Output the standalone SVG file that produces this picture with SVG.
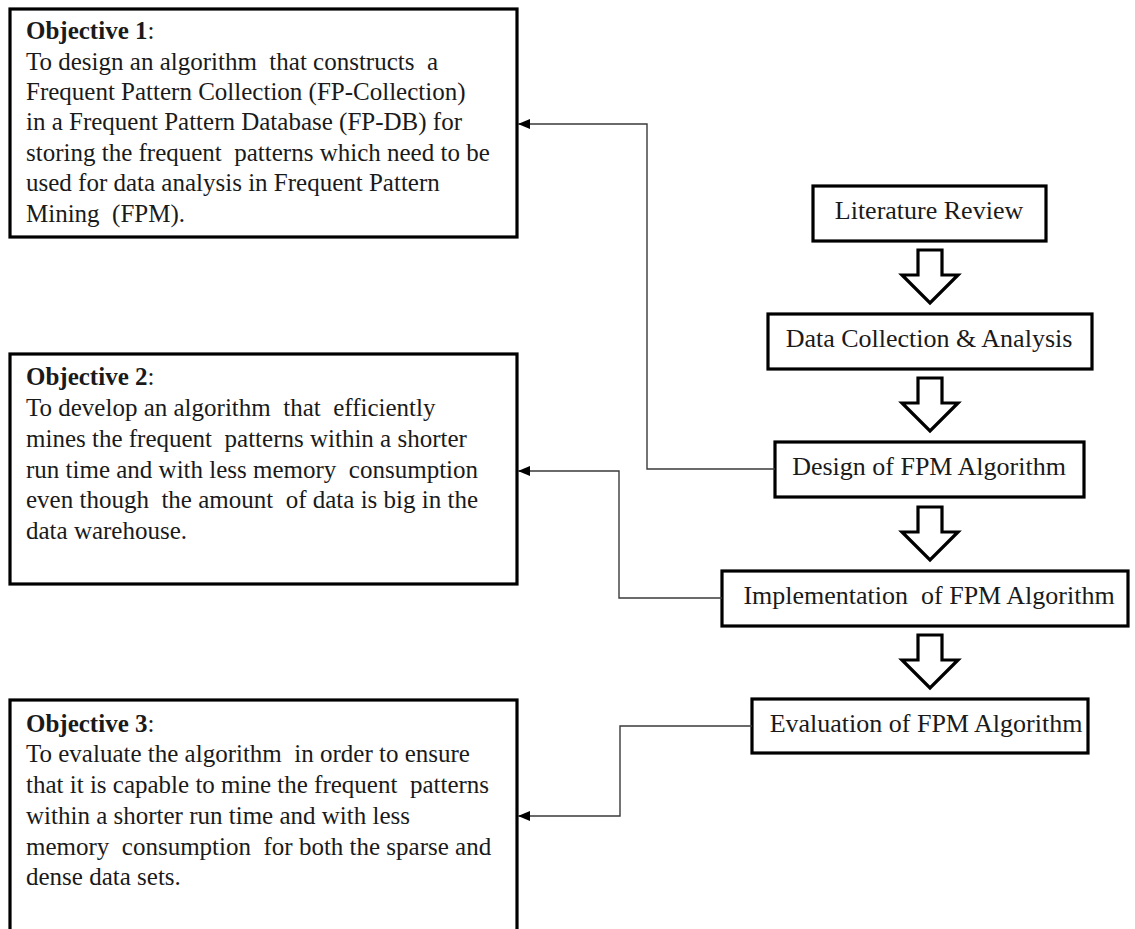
<svg xmlns="http://www.w3.org/2000/svg" width="1135" height="929" viewBox="0 0 1135 929">
  <style>
    .box { fill: #ffffff; stroke: #000000; stroke-width: 3.2; }
    .txt { font-family: "Liberation Serif", "DejaVu Serif", serif; font-size: 25px; fill: #1a1a1a; white-space: pre; }
    .bold { font-weight: bold; }
    .step { font-family: "Liberation Serif", "DejaVu Serif", serif; font-size: 26px; fill: #1a1a1a; text-anchor: middle; white-space: pre; }
    .link { fill: none; stroke: #3a3a3a; stroke-width: 1.4; }
    .flow { fill: #ffffff; stroke: #000000; stroke-width: 3.2; stroke-linejoin: miter; }
  </style>
  <defs>
    <marker id="head" viewBox="0 0 12 10" refX="12" refY="5" markerWidth="12" markerHeight="10" markerUnits="userSpaceOnUse" orient="auto">
      <path d="M0,0 L12,5 L0,10 Z" fill="#000000"/>
    </marker>
    <path id="bigArrow" d="M-12,0 L12,0 L12,25 L28,25 L0,53 L-28,25 L-12,25 Z"/>
  </defs>
  <rect width="1135" height="929" fill="#ffffff"/>

  <!-- objective boxes -->
  <g id="objective1">
    <rect class="box" x="10" y="9" width="507" height="228"/>
    <text class="txt" x="26" y="39"><tspan class="bold">Objective 1</tspan>:</text>
    <text class="txt" x="26" y="70">To design an algorithm  that constructs  a</text>
    <text class="txt" x="26" y="100">Frequent Pattern Collection (FP-Collection)</text>
    <text class="txt" x="26" y="130">in a Frequent Pattern Database (FP-DB) for</text>
    <text class="txt" x="26" y="161">storing the frequent  patterns which need to be</text>
    <text class="txt" x="26" y="191">used for data analysis in Frequent Pattern</text>
    <text class="txt" x="26" y="222">Mining  (FPM).</text>
  </g>

  <g id="objective2">
    <rect class="box" x="10" y="354" width="507" height="230"/>
    <text class="txt" x="26" y="385"><tspan class="bold">Objective 2</tspan>:</text>
    <text class="txt" x="26" y="416">To develop an algorithm  that  efficiently</text>
    <text class="txt" x="26" y="447">mines the frequent  patterns within a shorter</text>
    <text class="txt" x="26" y="478">run time and with less memory  consumption</text>
    <text class="txt" x="26" y="508">even though  the amount  of data is big in the</text>
    <text class="txt" x="26" y="539">data warehouse.</text>
  </g>

  <g id="objective3">
    <rect class="box" x="10" y="700" width="507" height="240"/>
    <text class="txt" x="26" y="732"><tspan class="bold">Objective 3</tspan>:</text>
    <text class="txt" x="26" y="762">To evaluate the algorithm  in order to ensure</text>
    <text class="txt" x="26" y="793">that it is capable to mine the frequent  patterns</text>
    <text class="txt" x="26" y="824">within a shorter run time and with less</text>
    <text class="txt" x="26" y="855">memory  consumption  for both the sparse and</text>
    <text class="txt" x="26" y="885">dense data sets.</text>
  </g>

  <!-- process steps -->
  <g id="literature-review">
    <rect class="box" x="813" y="186" width="233" height="55"/>
    <text class="step" x="929" y="219">Literature Review</text>
  </g>
  <g id="data-collection">
    <rect class="box" x="768" y="314" width="324" height="55"/>
    <text class="step" x="929" y="347">Data Collection &amp; Analysis</text>
  </g>
  <g id="design">
    <rect class="box" x="775" y="442" width="309" height="55"/>
    <text class="step" x="929" y="475">Design of FPM Algorithm</text>
  </g>
  <g id="implementation">
    <rect class="box" x="722" y="571" width="406" height="55"/>
    <text class="step" x="929" y="604">Implementation  of FPM Algorithm</text>
  </g>
  <g id="evaluation">
    <rect class="box" x="752" y="699" width="336" height="54"/>
    <text class="step" x="926" y="732">Evaluation of FPM Algorithm</text>
  </g>

  <!-- flow arrows between steps -->
  <g id="step-arrows" class="flow">
    <use href="#bigArrow" x="930" y="250"/>
    <use href="#bigArrow" x="930" y="378"/>
    <use href="#bigArrow" x="930" y="507"/>
    <use href="#bigArrow" x="930" y="635"/>
  </g>

  <!-- connectors from steps to objectives -->
  <g id="connectors" class="link">
    <polyline points="775,469 647,469 647,124 518,124" marker-end="url(#head)"/>
    <polyline points="722,598 619,598 619,471 518,471" marker-end="url(#head)"/>
    <polyline points="752,726 620,726 620,816 518,816" marker-end="url(#head)"/>
  </g>
</svg>
